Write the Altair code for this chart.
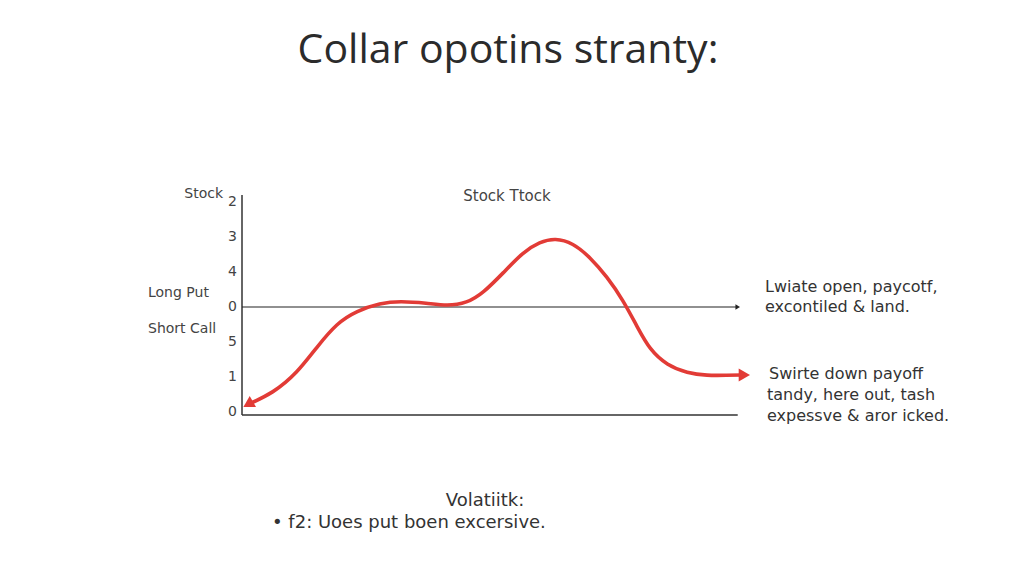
import altair as alt
import pandas as pd

# ---- data ----
curve_x = [0.12, 0.61, 1.08, 1.47, 1.86, 2.25, 2.71, 3.1, 3.63, 4.02, 4.41, 4.73, 5.12, 5.51, 5.84, 6.14, 6.49, 6.82, 7.16, 7.47, 7.75, 8.0, 8.33, 8.73, 9.12, 9.5, 9.85]
curve_y = [0.22, 0.54, 1.11, 1.86, 2.54, 2.89, 3.11, 3.17, 3.11, 3.03, 3.11, 3.4, 3.97, 4.57, 4.86, 4.97, 4.83, 4.43, 3.86, 3.2, 2.43, 1.77, 1.34, 1.11, 1.04, 1.05, 1.06]
tick_values = [0, 1, 2, 3, 4, 5, 6]
tick_labels = ["0", "1", "5", "0", "4", "3", "2"]
zero_line_level = 3
zero_line_end = 9.72
bottom_line_end = 9.72
axis_bottom = -0.086
axis_top = 6.2

title_text = "Collar opotins stranty:"
subtitle_text = "Stock Ttock"
left_labels = ["Stock", "Long Put", "Short Call"]
right_note_1 = ["Lwiate open, paycotf,", "excontiled & land."]
right_note_2 = ["Swirte down payoff", "tandy, here out, tash", "expessve & aror icked."]
bottom_head = "Volatiitk:"
bottom_item = "f2: Uoes put boen excersive."

RED = "#e23b36"
TFONT = "Open Sans"
FONT = "DejaVu Sans"
TXT = "#333333"

# canvas: the whole page area is the plot area (origin at page 8,8)
W, H = 1000, 565
PX0, PXU = 242, 51.0     # page x of x=0, pixels per x unit
PY0, PYU = 412, 35.0     # page y of y=0, pixels per y unit
xs = alt.Scale(domain=[(8 - PX0) / PXU, (8 + W - PX0) / PXU], nice=False, zero=False)
ys = alt.Scale(domain=[(PY0 - 8 - H) / PYU, (PY0 - 8) / PYU], nice=False, zero=False)

X = lambda f: alt.X(f, scale=xs, axis=None)
Y = lambda f: alt.Y(f, scale=ys, axis=None)

curve_df = pd.DataFrame({"x": curve_x, "y": curve_y})
curve = alt.Chart(curve_df).mark_line(
    interpolate="basis", color=RED, strokeWidth=3.6, strokeCap="round"
).encode(x=X("x:Q"), y=Y("y:Q"))

head_left = alt.Chart(pd.DataFrame({"x": [curve_x[0]], "y": [curve_y[0]]})).mark_point(
    shape="triangle-left", angle=330, filled=True, color=RED, size=160, opacity=1
).encode(x=X("x:Q"), y=Y("y:Q"))
head_right = alt.Chart(pd.DataFrame({"x": [curve_x[-1]], "y": [curve_y[-1]]})).mark_point(
    shape="triangle-right", filled=True, color=RED, size=170, opacity=1
).encode(x=X("x:Q"), y=Y("y:Q"))

# y axis line and tick labels
axis_line = alt.Chart(pd.DataFrame({"x": [0.0], "y": [axis_bottom], "y2": [axis_top]})).mark_rule(
    color="#333333", strokeWidth=1.5).encode(x=X("x:Q"), y=Y("y:Q"), y2="y2:Q")
tick_df = pd.DataFrame({"x": [0.0] * len(tick_values), "y": tick_values, "t": tick_labels})
tick_text = alt.Chart(tick_df).mark_text(
    font=FONT, fontSize=14, color="#444444", align="right", baseline="middle", dx=-5
).encode(x=X("x:Q"), y=Y("y:Q"), text="t:N")

mid_line = alt.Chart(pd.DataFrame({"x": [0.0], "x2": [zero_line_end], "y": [zero_line_level]})).mark_rule(
    color="#222222", strokeWidth=1.2).encode(x=X("x:Q"), x2="x2:Q", y=Y("y:Q"))
mid_head = alt.Chart(pd.DataFrame({"x": [zero_line_end], "y": [zero_line_level]})).mark_point(
    shape="triangle-right", filled=True, color="#222222", size=28, opacity=1
).encode(x=X("x:Q"), y=Y("y:Q"))
bottom_line = alt.Chart(pd.DataFrame({"x": [0.0], "x2": [bottom_line_end], "y": [axis_bottom]})).mark_rule(
    color="#333333", strokeWidth=1.5).encode(x=X("x:Q"), x2="x2:Q", y=Y("y:Q"))


def txt(text, x, y, size=15, align="left", color=TXT, font=FONT):
    return alt.Chart(pd.DataFrame({"t": [text]})).mark_text(
        font=font, fontSize=size, align=align, baseline="alphabetic", color=color
    ).encode(text="t:N", x=alt.value(x - 8), y=alt.value(y - 8))


texts = [
    txt(title_text, 508, 63, 41, "center", "#2b2b2b", TFONT),
    txt(subtitle_text, 507, 201, 15, "center", "#444444"),
    txt(left_labels[0], 223, 198, 14, "right", "#444444"),
    txt(left_labels[1], 148, 297, 14, "left", "#444444"),
    txt(left_labels[2], 148, 333, 14, "left", "#444444"),
    txt(right_note_1[0], 765, 292, 16),
    txt(right_note_1[1], 765, 312, 16),
    txt(right_note_2[0], 769, 379, 16),
    txt(right_note_2[1], 767, 400, 16),
    txt(right_note_2[2], 767, 421, 16),
    txt(bottom_head, 485, 506, 18, "center"),
    txt("\u2022 " + bottom_item, 272, 528, 18),
]

chart = alt.layer(
    bottom_line, axis_line, mid_line, mid_head, tick_text, curve, head_left, head_right, *texts
).properties(width=W, height=H, padding=0, background="white").configure_view(stroke=None)

chart.save("out.html", embed_options={"renderer": "svg", "actions": False})
